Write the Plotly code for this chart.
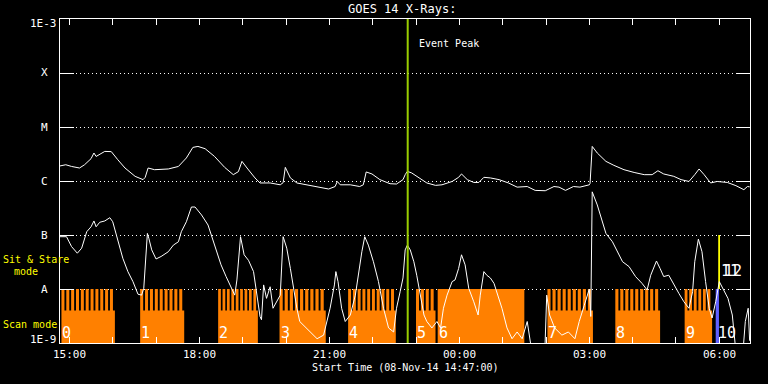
import numpy as np
import pandas as pd
import plotly.graph_objects as go

DAY1 = "2014-11-08"
DAY2 = "2014-11-09"

def ts(hhmm):
    h = int(hhmm[:2])
    return pd.Timestamp(f"{DAY1 if h >= 12 else DAY2} {hhmm}")

def iso(t):
    return t.strftime("%Y-%m-%d %H:%M:%S")

# ---------------- data ----------------
TITLE = "GOES 14 X-Rays:"
X_RANGE = ("14:47", "06:42:30")
EVENT_PEAK = "22:48:30"

# GOES long channel (1-8 A), time / flux (W m^-2)
LONG = [("14:47", 1.9e-6), ("14:55", 2.0e-6), ("15:03", 1.86e-6), ("15:14", 1.74e-6),
        ("15:21", 2.0e-6), ("15:30", 2.59e-6), ("15:34", 3.3e-6), ("15:37", 2.85e-6),
        ("15:49", 3.53e-6), ("15:58", 3.5e-6), ("16:07", 2.48e-6), ("16:17", 1.74e-6),
        ("16:31", 1.22e-6), ("16:42", 1.06e-6), ("16:45", 1.17e-6), ("16:49", 1.74e-6),
        ("16:58", 1.62e-6), ("17:17", 1.67e-6), ("17:31", 1.86e-6), ("17:42", 2.67e-6),
        ("17:51", 4.19e-6), ("17:58", 4.37e-6), ("18:08", 3.96e-6), ("18:21", 2.85e-6),
        ("18:35", 1.79e-6), ("18:47", 1.31e-6), ("18:54", 1.49e-6), ("18:59", 2.31e-6),
        ("19:06", 1.74e-6), ("19:17", 1.14e-6), ("19:24", 0.92e-6), ("19:38", 0.92e-6),
        ("19:52", 0.85e-6), ("19:56", 0.93e-6), ("19:59", 1.79e-6), ("20:06", 1.14e-6),
        ("20:15", 0.92e-6), ("20:33", 0.82e-6), ("20:47", 0.76e-6), ("20:59", 0.71e-6),
        ("21:08", 0.79e-6), ("21:11", 0.98e-6), ("21:15", 0.85e-6), ("21:29", 0.85e-6),
        ("21:42", 0.79e-6), ("21:47", 0.85e-6), ("21:51", 1.47e-6), ("21:59", 1.35e-6),
        ("22:10", 1.06e-6), ("22:24", 0.89e-6), ("22:33", 0.88e-6), ("22:42", 1.06e-6),
        ("22:45", 1.31e-6), ("22:48", 1.51e-6), ("22:54", 1.41e-6), ("23:04", 1.14e-6),
        ("23:15", 0.92e-6), ("23:27", 0.83e-6), ("23:36", 0.85e-6), ("23:50", 0.98e-6),
        ("23:59", 1.17e-6), ("00:03", 1.35e-6), ("00:11", 1.06e-6), ("00:20", 0.94e-6),
        ("00:27", 0.94e-6), ("00:34", 1.17e-6), ("00:43", 1.14e-6), ("00:55", 1.06e-6),
        ("01:08", 0.92e-6), ("01:20", 0.77e-6), ("01:34", 0.79e-6), ("01:45", 0.67e-6),
        ("01:59", 0.66e-6), ("02:11", 0.79e-6), ("02:18", 0.77e-6), ("02:27", 0.67e-6),
        ("02:38", 0.79e-6), ("02:47", 0.77e-6), ("03:00", 0.85e-6), ("03:01", 0.9e-6),
        ("03:04", 4.37e-6), ("03:11", 3.3e-6), ("03:23", 2.31e-6), ("03:34", 1.95e-6),
        ("03:48", 1.62e-6), ("04:02", 1.44e-6), ("04:16", 1.31e-6), ("04:27", 1.31e-6),
        ("04:35", 1.55e-6), ("04:43", 1.35e-6), ("04:57", 1.22e-6), ("05:07", 1.06e-6),
        ("05:18", 0.98e-6), ("05:26", 1.31e-6), ("05:32", 1.67e-6), ("05:39", 1.31e-6),
        ("05:48", 0.92e-6), ("05:57", 0.98e-6), ("06:11", 0.94e-6), ("06:23", 0.82e-6),
        ("06:34", 0.69e-6), ("06:39", 0.79e-6), ("06:42", 0.78e-6)]

# GOES short channel (0.5-4 A), time / flux (W m^-2)
SHORT = [("14:47", 9.3e-8), ("14:56", 9.3e-8), ("15:03", 6.1e-8), ("15:11", 4.6e-8),
         ("15:17", 5.7e-8), ("15:24", 1.15e-7), ("15:30", 1.42e-7), ("15:34", 1.82e-7),
         ("15:37", 1.42e-7), ("15:42", 1.72e-7), ("15:49", 1.82e-7), ("15:56", 2.09e-7),
         ("16:00", 1.76e-7), ("16:05", 1.0e-7), ("16:14", 3.7e-8), ("16:21", 2.1e-8),
         ("16:28", 1.37e-8), ("16:35", 8.0e-9), ("16:40", 7.7e-9), ("16:43", 1.03e-8),
         ("16:45", 3.2e-8), ("16:48", 1.07e-7), ("16:50", 8.7e-8), ("16:54", 5.3e-8),
         ("17:00", 3.6e-8), ("17:07", 4.0e-8), ("17:17", 4.9e-8), ("17:24", 6.5e-8),
         ("17:31", 7.5e-8), ("17:35", 1.15e-7), ("17:42", 1.76e-7), ("17:49", 3.3e-7),
         ("17:54", 3.3e-7), ("18:03", 2.35e-7), ("18:12", 1.53e-7), ("18:21", 6.5e-8),
         ("18:30", 2.8e-8), ("18:37", 1.7e-8), ("18:44", 1.03e-8), ("18:49", 7.7e-9),
         ("18:52", 1.47e-8), ("18:55", 4.3e-8), ("18:57", 9.3e-8), ("19:02", 4.3e-8),
         ("19:08", 3.4e-8), ("19:15", 2.1e-8), ("19:20", 7.7e-9), ("19:24", 3.1e-9),
         ("19:26", 2.7e-9), ("19:29", 1.19e-8), ("19:33", 6.7e-9), ("19:38", 1.1e-8),
         ("19:42", 4.4e-9), ("19:47", 5.8e-9), ("19:52", 7.7e-9), ("19:56", 9.3e-8),
         ("20:01", 5.7e-8), ("20:06", 2.4e-8), ("20:10", 1.03e-8), ("20:15", 4.4e-9),
         ("20:19", 2.5e-9), ("20:24", 2.15e-9), ("20:33", 1.6e-9), ("20:43", 1.2e-9),
         ("20:52", 1.4e-9), ("21:01", 4.4e-9), ("21:07", 1.19e-8), ("21:09", 2.1e-8),
         ("21:12", 1.37e-8), ("21:17", 4.4e-9), ("21:22", 2.5e-9), ("21:29", 3.3e-9),
         ("21:36", 7.7e-9), ("21:40", 1.8e-8), ("21:45", 4.9e-8), ("21:49", 9.3e-8),
         ("21:54", 6.5e-8), ("22:01", 3.2e-8), ("22:08", 1.37e-8), ("22:15", 4.4e-9),
         ("22:22", 1.9e-9), ("22:29", 1.6e-9), ("22:33", 4.4e-9), ("22:38", 8.9e-9),
         ("22:42", 1.6e-8), ("22:45", 5.3e-8), ("22:48", 6.5e-8), ("22:52", 5.3e-8),
         ("22:57", 3.2e-8), ("23:01", 1.8e-8), ("23:06", 7.7e-9), ("23:11", 3.3e-9),
         ("23:15", 2.5e-9), ("23:22", 1.9e-9), ("23:29", 2.5e-9), ("23:34", 1.9e-9),
         ("23:38", 4.4e-9), ("23:43", 7.7e-9), ("23:50", 1.37e-8), ("23:54", 1.47e-8),
         ("23:59", 2.4e-8), ("00:03", 4.3e-8), ("00:08", 2.8e-8), ("00:13", 1.03e-8),
         ("00:20", 5.8e-9), ("00:26", 3.3e-9), ("00:29", 7.7e-9), ("00:34", 2.1e-8),
         ("00:38", 1.8e-8), ("00:43", 1.6e-8), ("00:48", 1.27e-8), ("00:52", 8.9e-9),
         ("00:59", 4.4e-9), ("01:06", 1.9e-9), ("01:13", 1.2e-9), ("01:20", 1.6e-9),
         ("01:27", 1.2e-9), ("01:34", 2.5e-9), ("01:38", 1.2e-9), ("01:42", 5e-10),
         ("01:58", 5e-10), ("02:01", 7.7e-9), ("02:05", 3.3e-9), ("02:12", 1.9e-9),
         ("02:22", 1.4e-9), ("02:31", 1.6e-9), ("02:40", 1.2e-9), ("02:46", 2.5e-9),
         ("02:53", 5.0e-9), ("02:57", 7.7e-9), ("03:00", 1.0e-8), ("03:02", 3.1e-9),
         ("03:04", 6.3e-7), ("03:11", 3.6e-7), ("03:18", 1.76e-7), ("03:23", 1.07e-7),
         ("03:32", 7.5e-8), ("03:39", 4.9e-8), ("03:46", 3.2e-8), ("03:55", 2.6e-8),
         ("04:04", 1.7e-8), ("04:13", 1.27e-8), ("04:20", 9.6e-9), ("04:25", 1.8e-8),
         ("04:33", 3.3e-8), ("04:38", 2.4e-8), ("04:43", 1.7e-8), ("04:50", 1.8e-8),
         ("04:57", 1.19e-8), ("05:04", 8.3e-9), ("05:11", 5.8e-9), ("05:18", 4.4e-9),
         ("05:23", 8.9e-9), ("05:26", 3.2e-8), ("05:31", 8.4e-8), ("05:36", 4.9e-8),
         ("05:41", 1.37e-8), ("05:46", 4.4e-9), ("05:50", 2.9e-9), ("05:55", 5.8e-9),
         ("06:00", 1.37e-8), ("06:07", 8.9e-9), ("06:12", 6.7e-9), ("06:18", 3.3e-9),
         ("06:21", 1.4e-9), ("06:24", 5e-10), ("06:32", 5e-10), ("06:36", 2.5e-9),
         ("06:40", 4.4e-9), ("06:42", 1.1e-9)]

# Observation timeline (scan mode rows)
SCAN_LABEL = ["0", "1", "2", "3", "4", "5", "6", "7", "8", "9"]
SCAN_START = ["14:49", "16:38", "18:26", "19:51", "21:26", "23:00", "23:30", "02:02", "03:36", "05:12"]
SCAN_END = ["16:03", "17:39", "19:21", "20:55", "22:32", "23:27", "01:30", "03:05", "04:38", "05:50"]
SCAN_RASTERS = [11, 9, 9, 9, 10, 4, 0, 9, 9, 6]      # 0 = continuous
SCAN_FLUX = (1e-9, 4e-9, 1e-8)                        # base, step, top levels in the chart

BLUE_OBS = ("10", "05:55", "05:59:30")
STARE_OBS = (["11", "12"], "05:58:30", "06:01")
STARE_FLUX = (1e-8, 1e-7)

Y_TICKS = [1e-3, 1e-4, 1e-5, 1e-6, 1e-7, 1e-8, 1e-9]
Y_TEXT = ["1E-3", "X", "M", "C", "B", "A", "1E-9"]
X_LABEL_TIMES = ["15:00", "18:00", "21:00", "00:00", "03:00", "06:00"]
X_TITLE = "Start Time (08-Nov-14 14:47:00)"

# ---------------- figure ----------------
FONT = "DejaVu Sans Mono"
ORANGE = "#ff8000"
L, R, T, B = 60, 18, 19, 41
W, H = 768, 384
PW, PH = W - L - R, H - T - B

def px(xp):
    return (xp - L) / PW

def py(yp):
    return (H - B - yp) / PH

# rectangles as filled polygons (one trace per colour)
polys = {ORANGE: ([], []), "#6060ff": ([], []), "#ffff00": ([], [])}
def rect(t0, t1, f0, f1, color):
    xs, ys = polys[color]
    xs += [t0, t1, t1, t0, t0, None]
    ys += [f0, f0, f1, f1, f0, None]

annotations = []
for lab, s, e, n in zip(SCAN_LABEL, SCAN_START, SCAN_END, SCAN_RASTERS):
    t0, t1 = ts(s), ts(e)
    rect(t0, t1, SCAN_FLUX[0], SCAN_FLUX[1], ORANGE)
    if n == 0:
        rect(t0, t1, SCAN_FLUX[1], SCAN_FLUX[2], ORANGE)
    else:
        per = (t1 - t0) / n
        for i in range(n):
            a = t0 + i * per
            rect(a, a + 0.62 * per, SCAN_FLUX[1], SCAN_FLUX[2], ORANGE)
    annotations.append(dict(text=lab, x=iso(t0), xref="x", y=py(333), yref="paper",
                            xanchor="left", yanchor="middle", showarrow=False,
                            font=dict(family=FONT, size=15, color="white"), borderpad=0))

rect(ts(BLUE_OBS[1]), ts(BLUE_OBS[2]), SCAN_FLUX[0], SCAN_FLUX[2], "#6060ff")
annotations.append(dict(text=BLUE_OBS[0], x=iso(ts(BLUE_OBS[1])), xref="x", y=py(333), yref="paper",
                        xanchor="left", yanchor="middle", showarrow=False, xshift=1,
                        font=dict(family=FONT, size=15, color="white"), borderpad=0))
rect(ts(STARE_OBS[1]), ts(STARE_OBS[2]), STARE_FLUX[0], STARE_FLUX[1], "#ffff00")
for k, lab in enumerate(STARE_OBS[0]):
    annotations.append(dict(text=lab, x=iso(ts(STARE_OBS[1])), xref="x", y=py(271), yref="paper",
                            xanchor="left", yanchor="middle", showarrow=False, xshift=2 + 3 * k,
                            font=dict(family=FONT, size=15, color="white"), borderpad=0))

fig = go.Figure()
for color, (xs, ys) in polys.items():
    fig.add_trace(go.Scatter(x=xs, y=ys, mode="lines", fill="toself", fillcolor=color,
                             line=dict(width=0, color=color), hoverinfo="skip"))
for series in (LONG, SHORT):
    fig.add_trace(go.Scatter(
        x=[ts(t) for t, _ in series], y=[v for _, v in series],
        mode="lines", line=dict(color="white", width=1), hoverinfo="skip"))

shapes = [dict(type="line", xref="x", yref="paper", x0=iso(ts(EVENT_PEAK)), x1=iso(ts(EVENT_PEAK)),
               y0=0, y1=1, line=dict(color="#99cc00", width=2), layer="above")]

def txt(text, x, y, xanchor="center", size=11, color="white", xref="paper"):
    annotations.append(dict(text=text, x=x, y=y, xref=xref, yref="paper", xanchor=xanchor,
                            yanchor="middle", showarrow=False, borderpad=0,
                            font=dict(family=FONT, size=size, color=color)))

txt(TITLE, px(401.7), py(9.2), size=12)
txt("Event Peak", px(418), py(43), xanchor="left", size=10)
txt(X_TITLE, px(405), py(367.5), size=10)
txt("Sit &amp; Stare", px(1.5), py(259), xanchor="left", size=10, color="#ffff00")
txt("mode", px(12.5), py(271), xanchor="left", size=10, color="#ffff00")
txt("Scan mode", px(1.5), py(324), xanchor="left", size=10, color="#ffff00")

# y labels
for val, lab in zip(Y_TICKS, Y_TEXT):
    frac = (np.log10(val) + 9) / 6
    if lab == "1E-3":
        txt(lab, px(57.5), py(23.3), xanchor="right")
    elif lab == "1E-9":
        txt(lab, px(57.5), py(339), xanchor="right")
    else:
        txt(lab, px(44), frac)

for t in X_LABEL_TIMES:
    txt(t, iso(ts(t)), py(354), xref="x")

fig.update_layout(
    width=W, height=H, margin=dict(l=L, r=R, t=T, b=B),
    paper_bgcolor="black", plot_bgcolor="black", showlegend=False,
    shapes=shapes, annotations=annotations, hovermode=False,
    xaxis=dict(type="date", range=[iso(ts(X_RANGE[0])), iso(ts(X_RANGE[1]))],
               tickvals=[iso(t) for t in pd.date_range(f"{DAY1} 15:00", f"{DAY2} 06:00", freq="h")],
               showticklabels=False, ticks="inside", ticklen=6, tickwidth=1, tickcolor="white",
               showline=True, linecolor="white", linewidth=1, mirror="ticks",
               showgrid=False, zeroline=False),
    yaxis=dict(type="log", range=[-9, -3], tickvals=Y_TICKS, showticklabels=False,
               ticks="inside", ticklen=14, tickwidth=1, tickcolor="white",
               showline=True, linecolor="white", linewidth=1, mirror="ticks",
               showgrid=True, gridcolor="white", gridwidth=1, griddash="1px,3px",
               zeroline=False),
)

fig.write_html("out.html", config={"displayModeBar": False},
               post_script="document.body.style.margin='0px';document.body.style.background='black';")
